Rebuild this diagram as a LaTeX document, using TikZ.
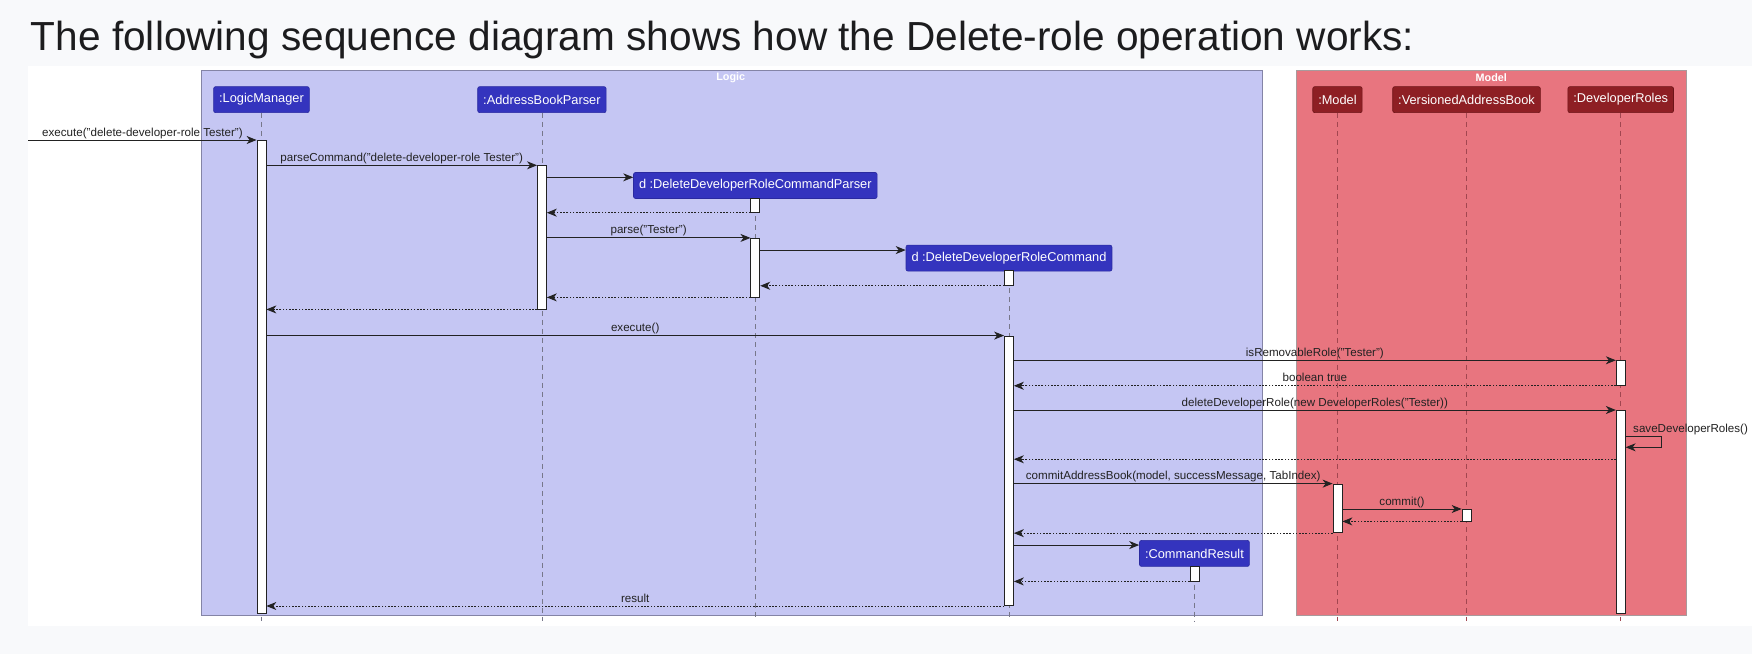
\documentclass[tikz,border=0pt]{standalone}
\usepackage{fontspec}
\setmainfont{Liberation Sans}
\usetikzlibrary{arrows.meta,fit}
\definecolor{pagebg}{HTML}{F8F9FB}
\definecolor{logicbg}{HTML}{C5C6F3}
\definecolor{logicpart}{HTML}{3434BE}
\definecolor{logicpartb}{HTML}{2A2AA0}
\definecolor{modelbg}{HTML}{E8757F}
\definecolor{modelpart}{HTML}{8E1F24}
\definecolor{modelpartb}{HTML}{6E1418}
\definecolor{logicborder}{HTML}{8484A6}
\definecolor{modelborder}{HTML}{A89A9C}
\definecolor{ink}{HTML}{222222}
\definecolor{lifegray}{HTML}{77778A}
\definecolor{lifered}{HTML}{A24650}
\definecolor{titleink}{HTML}{1C1C1E}
\tikzset{
  group/.style={rectangle, inner sep=0pt, line width=0.9pt},
  grouplabel/.style={text=white, font=\bfseries\fontsize{10.8}{12}\selectfont, inner sep=0pt},
  part/.style={rectangle, rounded corners=2pt, text=white, line width=0.6pt,
    font=\fontsize{12.8}{14}\selectfont, minimum height=26pt, inner xsep=5.5pt, inner ysep=0pt},
  lpart/.style={part, fill=logicpart, draw=logicpartb},
  mpart/.style={part, fill=modelpart, draw=modelpartb},
  act/.style={rectangle, draw=ink, fill=white, inner sep=0pt, line width=0.8pt},
  life/.style={draw=lifegray, line width=0.7pt, dash pattern=on 5pt off 4pt},
  lifem/.style={draw=lifered, line width=0.7pt, dash pattern=on 5pt off 4pt},
  call/.style={draw=ink, line width=0.9pt, -{Stealth[length=10pt,width=8pt,inset=3pt]}},
  ret/.style={draw=ink, line width=0.9pt, dash pattern=on 1.6pt off 1.6pt, -{Stealth[length=10pt,width=8pt,inset=3pt]}},
  lbl/.style={text=ink, font=\fontsize{11.6}{13}\selectfont, inner sep=1pt, text height=8.5pt, text depth=2.5pt},
}
\begin{document}
\begin{tikzpicture}[x=1.117347pt, y=-1.117347pt]
% page
\fill[pagebg] (0,0) rectangle (1568,585);
\fill[white] (25.4,58.8) rectangle (1568,560);
\useasboundingbox (0,0) rectangle (1568,585);
\node[anchor=base west, inner sep=0pt, text=titleink, font=\fontsize{40.6}{48}\selectfont] (title) at (27.5,44.8)
  {The following sequence diagram shows how the Delete-role operation works:};

% groups
\node[group, draw=logicborder, fill=logicbg, fit={(180.2,63.3)(1130,551)}] (logic) {};
\node[group, draw=modelborder, fill=modelbg, fit={(1160.4,63.3)(1509,551)}] (model) {};
\node[grouplabel] (logiclbl) at (654,69.2) {Logic};
\node[grouplabel] (modellbl) at (1334.7,69.2) {Model};

% participants
\node[lpart] (lm)  at (234,89.2) {:LogicManager};
\node[lpart] (abp) at (485,89.2) {:AddressBookParser};
\node[mpart] (m)   at (1197,89.2) {:Model};
\node[mpart] (v)   at (1312.5,89.2) {:VersionedAddressBook};
\node[mpart] (dr)  at (1450.5,89.2) {:DeveloperRoles};

% lifelines
\coordinate (bot) at (0,556);
\draw[life] (lm.south) -- (lm.south |- bot);
\draw[life] (abp.south) -- (abp.south |- bot);
\draw[life] (676,177.5) -- (676,556);
\draw[life] (903,242) -- (903,556);
\draw[life] (1069,507.2) -- (1069,556);
\draw[lifem] (m.south) -- (m.south |- bot);
\draw[lifem] (v.south) -- (v.south |- bot);
\draw[lifem] (dr.south) -- (dr.south |- bot);

% created participants
\node[lpart] (p)  at (676,166) {d :DeleteDeveloperRoleCommandParser};
\node[lpart] (c)  at (903,231) {d :DeleteDeveloperRoleCommand};
\node[lpart] (cr) at (1069,495.3) {:CommandResult};

% activations
\node[act, fit={(230,125.3)(238,549)}] (lmA) {};
\node[act, fit={(481,148.3)(489,276.6)}] (abpA) {};
\node[act, fit={(672,177.5)(680,190)}] (pA1) {};
\node[act, fit={(672,213.3)(680,265.8)}] (pA2) {};
\node[act, fit={(899,242)(907,255.4)}] (cA1) {};
\node[act, fit={(899,300.7)(907,542)}] (cA2) {};
\node[act, fit={(1446.5,322.8)(1454.5,344.9)}] (drA1) {};
\node[act, fit={(1446.5,367.3)(1454.5,549)}] (drA2) {};
\node[act, fit={(1193,433.2)(1201,476.8)}] (mA) {};
\node[act, fit={(1308.5,455.9)(1316.5,466.3)}] (vA) {};
\node[act, fit={(1065,507.2)(1073,520)}] (crA) {};

% messages
\coordinate (src) at (25.4,125.3);
\draw[call] (src) -- node[lbl, above] {execute("delete-developer-role Tester")} (lmA.west |- src);
\draw[call] (lmA.east |- abpA.north) -- node[lbl, above] {parseCommand("delete-developer-role Tester")} (abpA.north west);
\draw[call] (abpA.east |- 0,158.7) -- (p.west |- 0,158.7);
\draw[ret] (pA1.south west) -- (abpA.east |- pA1.south west);
\draw[call] (abpA.east |- pA2.north) -- node[lbl, above] {parse("Tester")} (pA2.north west);
\draw[call] (pA2.east |- 0,223.8) -- (c.west |- 0,223.8);
\draw[ret] (cA1.south west) -- (pA2.east |- cA1.south west);
\draw[ret] (pA2.south west) -- (abpA.east |- pA2.south west);
\draw[ret] (abpA.south west) -- (lmA.east |- abpA.south west);
\draw[call] (lmA.east |- cA2.north) -- node[lbl, above] {execute()} (cA2.north west);
\draw[call] (cA2.east |- drA1.north) -- node[lbl, above] {isRemovableRole("Tester")} (drA1.north west);
\draw[ret] (drA1.south west) -- node[lbl, above] {boolean true} (cA2.east |- drA1.south west);
\draw[call] (cA2.east |- drA2.north) -- node[lbl, above] {deleteDeveloperRole(new DeveloperRoles("Tester))} (drA2.north west);
\coordinate (selfA) at (1486.8,390.8);
\coordinate (selfB) at (1486.8,400.3);
\draw[call] (drA2.east |- selfA) -- (selfA) -- (selfB) -- (drA2.east |- selfB);
\node[lbl, anchor=base west, text depth=0pt] (selflbl) at (1460.6,387) {saveDeveloperRoles()};
\draw[ret] (drA2.west |- 0,411) -- (cA2.east |- 0,411);
\draw[call] (cA2.east |- mA.north) -- node[lbl, above] {commitAddressBook(model, successMessage, TabIndex)} (mA.north west);
\draw[call] (mA.east |- vA.north) -- node[lbl, above] {commit()} (vA.north west);
\draw[ret] (vA.south west) -- (mA.east |- vA.south west);
\draw[ret] (mA.south west) -- (cA2.east |- mA.south west);
\draw[call] (cA2.east |- 0,487.8) -- (cr.west |- 0,487.8);
\draw[ret] (crA.south west) -- (cA2.east |- crA.south west);
\draw[ret] (cA2.south west) -- node[lbl, above] {result} (lmA.east |- cA2.south west);
\end{tikzpicture}
\end{document}
